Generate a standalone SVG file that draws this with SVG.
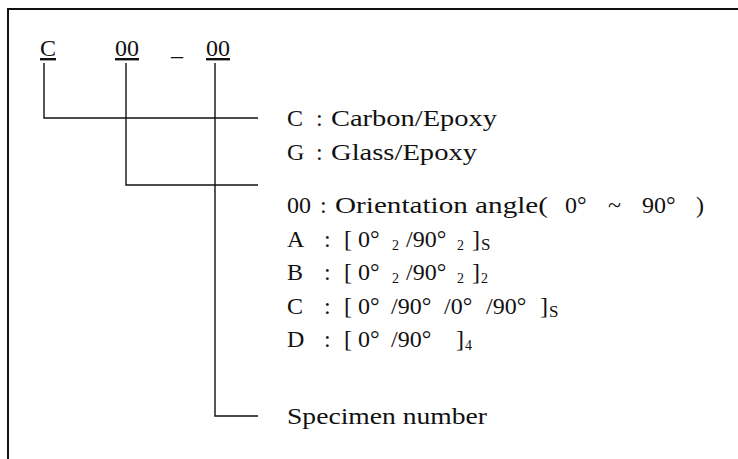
<svg xmlns="http://www.w3.org/2000/svg" width="738" height="459" viewBox="0 0 738 459">
<style>
.t{font-family:'Liberation Serif',Tinos,'Times New Roman',serif;font-size:24px;fill:#111}
.s{font-size:14px}
.ss{font-size:17px}
.ln{stroke:#111;stroke-width:1.4;fill:none}
.fr{stroke:#111;stroke-width:2;fill:none}
.u{text-decoration:underline}
</style>
<rect x="0" y="0" width="738" height="459" fill="#fff"/>
<g id="frame"><path class="fr" d="M8,459 V9 H738"/></g>
<g id="code">
<text class="t u" x="40" y="56">C</text>
<text class="t u" x="115" y="56">00</text>
<text class="t" x="171" y="55">_</text>
<text class="t u" x="206" y="56">00</text>
</g>
<g id="connectors">
<path class="ln" d="M44,63 V118 H258"/>
<path class="ln" d="M126,63 V185 H258"/>
<path class="ln" d="M215,63 V416 H258"/>
</g>
<g id="material">
<text class="t" x="287" y="126">C</text><text class="t" x="316" y="126">:</text><text class="t" x="331" y="126" textLength="166" lengthAdjust="spacingAndGlyphs">Carbon/Epoxy</text>
<text class="t" x="287" y="160">G</text><text class="t" x="316" y="160">:</text><text class="t" x="331" y="160" textLength="146" lengthAdjust="spacingAndGlyphs">Glass/Epoxy</text>
</g>
<g id="orientation">
<text class="t" x="287" y="213">00</text><text class="t" x="320" y="213">:</text><text class="t" x="335" y="213" textLength="213" lengthAdjust="spacingAndGlyphs">Orientation angle(</text><text class="t" x="565" y="213">0°</text><text class="t" x="608" y="213">~</text><text class="t" x="642" y="213">90°</text><text class="t" x="696" y="213">)</text>
</g>
<g id="layup-A">
<text class="t" x="287" y="247">A</text><text class="t" x="324" y="247">:</text><text class="t" x="344" y="247">[</text><text class="t" x="358" y="247">0°</text><text class="t s" x="392" y="250">2</text><text class="t" x="406" y="247">/90°</text><text class="t s" x="457" y="250">2</text><text class="t" x="472" y="247">]</text><text class="t ss" x="481" y="250">S</text>
</g>
<g id="layup-B">
<text class="t" x="287" y="280">B</text><text class="t" x="324" y="280">:</text><text class="t" x="344" y="280">[</text><text class="t" x="358" y="280">0°</text><text class="t s" x="392" y="283">2</text><text class="t" x="406" y="280">/90°</text><text class="t s" x="457" y="283">2</text><text class="t" x="472" y="280">]</text><text class="t s" x="481" y="283">2</text>
</g>
<g id="layup-C">
<text class="t" x="287" y="314">C</text><text class="t" x="324" y="314">:</text><text class="t" x="344" y="314">[</text><text class="t" x="358" y="314">0°</text><text class="t" x="391" y="314">/90°</text><text class="t" x="444" y="314">/0°</text><text class="t" x="486" y="314">/90°</text><text class="t" x="540" y="314">]</text><text class="t ss" x="549" y="317">S</text>
</g>
<g id="layup-D">
<text class="t" x="287" y="347">D</text><text class="t" x="324" y="347">:</text><text class="t" x="344" y="347">[</text><text class="t" x="358" y="347">0°</text><text class="t" x="391" y="347">/90°</text><text class="t" x="456" y="347">]</text><text class="t s" x="465" y="350">4</text>
</g>
<g id="specimen">
<text class="t" x="287" y="424" textLength="200" lengthAdjust="spacingAndGlyphs">Specimen number</text>
</g>
</svg>
